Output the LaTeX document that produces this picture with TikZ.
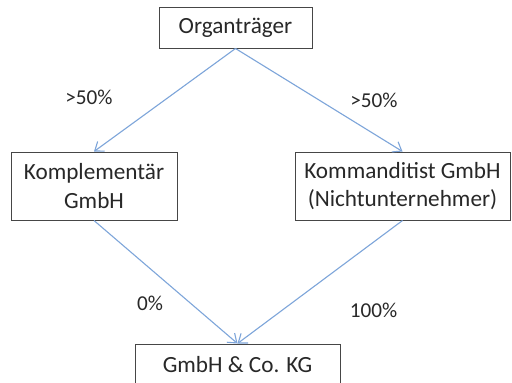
\documentclass[tikz,border=0pt]{standalone}
\usepackage{fontspec}
\setmainfont{Carlito}
\usetikzlibrary{arrows.meta}
\definecolor{linkblue}{RGB}{125,165,218}
\definecolor{boxline}{RGB}{70,70,70}
\definecolor{txt}{RGB}{40,40,40}
\tikzset{
  entity/.style={draw=boxline, line width=0.5pt, fill=white, inner sep=0pt,
    align=center, text=txt, font=\fontsize{11.6pt}{14.4pt}\selectfont},
  share/.style={text=txt, inner sep=0pt, font=\fontsize{10.6pt}{12pt}\selectfont},
  link/.style={draw=linkblue, line width=0.55pt,
    -{Straight Barb[length=4pt,width=6pt,line width=0.55pt]}}
}
\begin{document}
\begin{tikzpicture}[x=0.5pt,y=-0.5pt]
  \useasboundingbox (0,0) rectangle (512,382);
  \fill[white] (0,0) rectangle (512,382);
  \begin{scope}
    \clip (0,0) rectangle (512,382);
    \node[entity, minimum width=76.5pt, minimum height=20.5pt] (ot) at (235.5,27.5) {Organträger};
    \node[entity, minimum width=83pt, minimum height=34pt] (kp) at (94,186) {Komplementär\\GmbH};
    \node[entity, minimum width=107.5pt, minimum height=34pt] (kd) at (402.5,186) {Kommanditist GmbH\\(Nichtunternehmer)};
    \node[entity, minimum width=102.5pt, minimum height=20.5pt] (kg) at (237.5,364.5) {GmbH \& Co. KG};

    \draw[link] (ot.south) -- (kp.north);
    \draw[link] (ot.south) -- (kd.north);
    \draw[link] (kp.south) -- (kg.north);
    \draw[link] (kd.south) -- (kg.north);

    \node[share] (s1) at (89,97) {>50\%};
    \node[share] (s2) at (374,100) {>50\%};
    \node[share] (s3) at (150,303) {0\%};
    \node[share] (s4) at (373.5,310) {100\%};
  \end{scope}
\end{tikzpicture}
\end{document}
